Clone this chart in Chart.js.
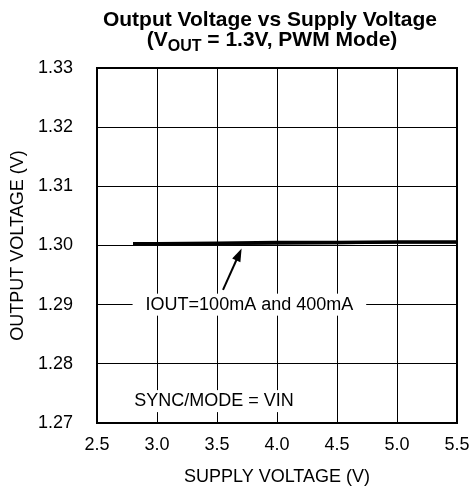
<!DOCTYPE html>
<html>
<head>
<meta charset="utf-8">
<script src="https://cdn.jsdelivr.net/npm/chart.js@4/dist/chart.umd.min.js"></script>
<style>
  html, body { margin: 0; padding: 0; background: #fff; }
  #wrap { width: 471px; height: 489px; }
</style>
</head>
<body>
<div id="wrap"><canvas id="grafica"></canvas></div>
<script>
// ==================== DATA ====================
const supplyVolts = [2.8, 3.0, 3.5, 4.0, 4.5, 5.0, 5.5];
const vout100mA = [1.3003, 1.3003, 1.3004, 1.3005, 1.3005, 1.3006, 1.3006];
const vout400mA = [1.3002, 1.3002, 1.3002, 1.3003, 1.3004, 1.3005, 1.3005];
const xTicks = [2.5, 3.0, 3.5, 4.0, 4.5, 5.0, 5.5];
const yTicks = [1.27, 1.28, 1.29, 1.30, 1.31, 1.32, 1.33];

const FONT = "'Liberation Sans', Arial, sans-serif";

function serie(vals) {
    return supplyVolts.map(function(x, i) { return { x: x, y: vals[i] }; });
}

// titulo con subindice + anotaciones
const anotaciones = {
    id: 'anotaciones',
    afterDatasetsDraw: function(chart) {
        const c = chart.ctx;
        const xs = chart.scales.x, ys = chart.scales.y;
        const area = chart.chartArea;
        c.save();

        // titulo
        c.fillStyle = '#000';
        c.textBaseline = 'alphabetic';
        c.font = 'bold 21px ' + FONT;
        c.textAlign = 'center';
        c.fillText('Output Voltage vs Supply Voltage', 270, 26);
        const p1 = '(V', sub = 'OUT', p2 = ' = 1.3V, PWM Mode)';
        const w1 = c.measureText(p1).width, w3 = c.measureText(p2).width;
        c.font = 'bold 16px ' + FONT;
        const w2 = c.measureText(sub).width;
        let x0 = 272 - (w1 + w2 + w3) / 2;
        c.textAlign = 'left';
        c.font = 'bold 21px ' + FONT;
        c.fillText(p1, x0, 46);
        c.font = 'bold 16px ' + FONT;
        c.fillText(sub, x0 + w1, 51);
        c.font = 'bold 21px ' + FONT;
        c.fillText(p2, x0 + w1 + w2, 46);

        // etiqueta IOUT
        c.font = '18px ' + FONT;
        c.textAlign = 'center';
        c.textBaseline = 'middle';
        const lbl = 'IOUT=100mA and 400mA';
        const lx = xs.getPixelForValue(3.77), ly = ys.getPixelForValue(1.29);
        const lw = c.measureText(lbl).width;
        c.fillStyle = '#fff';
        c.fillRect(lx - lw / 2 - 13, ly - 11, lw + 26, 22);
        c.fillStyle = '#000';
        c.fillText(lbl, lx, ly);

        // flecha
        const tx = xs.getPixelForValue(3.705), ty = ys.getPixelForValue(1.2995);
        const fx = xs.getPixelForValue(3.55), fy = ys.getPixelForValue(1.2925);
        const ang = Math.atan2(ty - fy, tx - fx);
        c.strokeStyle = '#000';
        c.lineWidth = 2;
        c.beginPath();
        c.moveTo(fx, fy);
        c.lineTo(tx - 8 * Math.cos(ang), ty - 8 * Math.sin(ang));
        c.stroke();
        c.beginPath();
        c.moveTo(tx, ty);
        c.lineTo(tx - 13 * Math.cos(ang) + 4.5 * Math.sin(ang), ty - 13 * Math.sin(ang) - 4.5 * Math.cos(ang));
        c.lineTo(tx - 13 * Math.cos(ang) - 4.5 * Math.sin(ang), ty - 13 * Math.sin(ang) + 4.5 * Math.cos(ang));
        c.closePath();
        c.fill();

        // SYNC/MODE
        const sx = xs.getPixelForValue(3.475), sy = ys.getPixelForValue(1.2737);
        const st = 'SYNC/MODE = VIN';
        const sw = c.measureText(st).width;
        c.fillStyle = '#fff';
        c.fillRect(sx - sw / 2 - 6, sy - 11, sw + 12, 22);
        c.fillStyle = '#000';
        c.fillText(st, sx, sy);

        // marco
        c.lineWidth = 2;
        c.strokeRect(area.left, area.top, area.right - area.left, area.bottom - area.top);
        c.restore();
    }
};

new Chart(document.getElementById('grafica'), {
    type: 'scatter',
    data: {
        datasets: [{
            label: 'IOUT=100mA',
            data: serie(vout100mA),
            showLine: true,
            borderColor: '#000',
            borderWidth: 3.5,
            pointRadius: 0,
            tension: 0
        }, {
            label: 'IOUT=400mA',
            data: serie(vout400mA),
            showLine: true,
            borderColor: '#222',
            borderWidth: 2,
            pointRadius: 0,
            tension: 0
        }]
    },
    plugins: [anotaciones],
    options: {
        responsive: true,
        maintainAspectRatio: false,
        animation: false,
        layout: { padding: { top: 68, right: 14, left: 3, bottom: 1 } },
        plugins: {
            legend: { display: false },
            tooltip: { enabled: false }
        },
        scales: {
            x: {
                type: 'linear',
                min: 2.5,
                max: 5.5,
                afterBuildTicks: function(axis) {
                    axis.ticks = xTicks.map(function(v) { return { value: v }; });
                },
                afterFit: function(axis) {
                    axis.height = 65;
                    axis.paddingRight = 0;
                    axis.paddingLeft = 0;
                },
                grid: { color: '#000', lineWidth: 1, drawTicks: false },
                border: { display: false },
                ticks: {
                    color: '#000',
                    padding: 11,
                    maxRotation: 0,
                    font: { family: FONT, size: 18 },
                    callback: function(v) { return v.toFixed(1); }
                },
                title: {
                    display: true,
                    text: 'SUPPLY VOLTAGE (V)',
                    color: '#000',
                    padding: { top: 10, bottom: 0 },
                    font: { family: FONT, size: 18 }
                }
            },
            y: {
                min: 1.27,
                max: 1.33,
                afterBuildTicks: function(axis) {
                    axis.ticks = yTicks.map(function(v) { return { value: v }; });
                },
                afterFit: function(axis) {
                    axis.width = 94;
                    axis.paddingTop = 0;
                    axis.paddingBottom = 0;
                },
                grid: { color: '#000', lineWidth: 1, drawTicks: false },
                border: { display: false },
                ticks: {
                    color: '#000',
                    padding: 24,
                    font: { family: FONT, size: 18 },
                    callback: function(v) { return v.toFixed(2); }
                },
                title: {
                    display: true,
                    text: 'OUTPUT VOLTAGE (V)',
                    color: '#000',
                    padding: { top: 4, bottom: 6 },
                    font: { family: FONT, size: 18 }
                }
            }
        }
    }
});
</script>
</body>
</html>
